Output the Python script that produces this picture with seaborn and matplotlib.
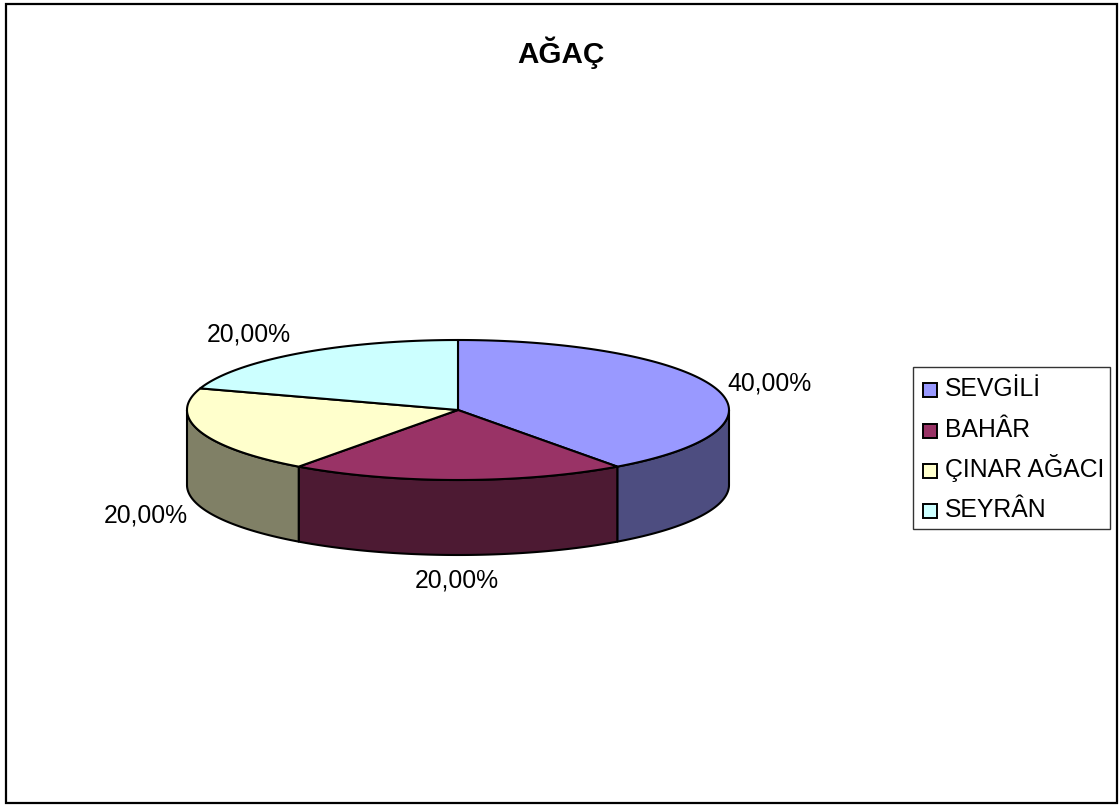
import numpy as np
import matplotlib
matplotlib.use("Agg")
import matplotlib.pyplot as plt
from matplotlib.patches import Rectangle
import seaborn as sns

categories = ["SEVGİLİ", "BAHÂR", "ÇINAR AĞACI", "SEYRÂN"]
values = [40.0, 20.0, 20.0, 20.0]
top_colors = ["#9999FF", "#993366", "#FFFFCC", "#CCFFFF"]
side_colors = ["#4D4D80", "#4D1A33", "#808066", "#668080"]

# pie geometry in pixels
CX, CY = 458, 410
RX, RY = 271, 70
DEPTH = 75
LW = 1.5
FONT = 17.8


def rim(t0, t1):
    # points on the ellipse, angle clockwise from the top
    t = np.radians(np.linspace(t0, t1, 120))
    return CX + RX * np.sin(t), CY - RY * np.cos(t)


def main():
    sns.set_theme(style="white")
    plt.rcParams["font.family"] = ["Liberation Sans", "DejaVu Sans"]

    fig = plt.figure(figsize=(11.19, 8.05), dpi=100)
    ax = fig.add_axes([0, 0, 1, 1])
    ax.set_xlim(0, 1119)
    ax.set_ylim(805, 0)
    ax.axis("off")

    # outer chart border
    ax.add_patch(Rectangle((6, 4), 1111, 799, fill=False, ec="black", lw=1.6))

    shares = np.array(values) / sum(values)
    edges = np.concatenate([[0], np.cumsum(shares) * 360])
    palette = sns.color_palette(top_colors)
    darker = sns.color_palette(side_colors)

    # side walls, only the front half of the rim shows
    for i in range(len(values)):
        t0, t1 = max(edges[i], 90), min(edges[i + 1], 270)
        if t0 >= t1:
            continue
        x, y = rim(t0, t1)
        ax.fill(np.r_[x, x[::-1]], np.r_[y, y[::-1] + DEPTH],
                fc=darker[i], ec="black", lw=LW, joinstyle="round")

    # top face
    for i in range(len(values)):
        x, y = rim(edges[i], edges[i + 1])
        ax.fill(np.r_[CX, x], np.r_[CY, y],
                fc=palette[i], ec="black", lw=LW, joinstyle="round")

    # percent labels
    label_pos = [(769, 383), (457, 580), (146, 515), (249, 334)]
    for v, (lx, ly) in zip(values, label_pos):
        txt = f"{v:.2f}".replace(".", ",") + "%"
        ax.text(lx, ly, txt, ha="center", va="center", fontsize=FONT, color="black")

    ax.text(561, 53, "AĞAÇ", ha="center", va="center",
            fontsize=21.3, fontweight="bold", color="black")

    # legend drawn by hand so the rows stay evenly spaced
    ax.add_patch(Rectangle((913, 367), 197, 162, fc="white", ec="#333333", lw=1.0))
    swatch_y = [390, 431, 471, 511]
    text_y = [396, 437, 477, 517]
    for name, c, sy, ty in zip(categories, palette, swatch_y, text_y):
        ax.add_patch(Rectangle((923, sy - 7), 14, 14, fc=c, ec="black", lw=1.4))
        ax.text(945, ty, name, ha="left", va="baseline", fontsize=FONT, color="black")

    fig.savefig("out.png", dpi=100, facecolor="white")


if __name__ == "__main__":
    main()
